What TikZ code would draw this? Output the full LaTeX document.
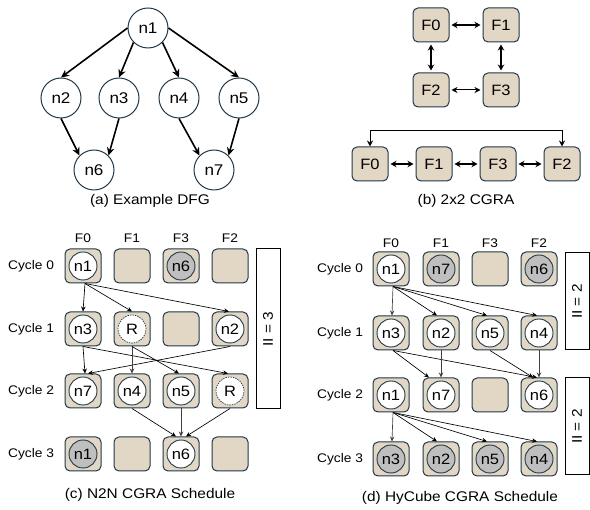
\documentclass[tikz,border=0pt]{standalone}
\usepackage{fontspec}
\setmainfont{Liberation Sans}[FakeStretch=1.1]
\usetikzlibrary{arrows.meta}
\definecolor{cborder}{RGB}{32,56,72}
\definecolor{tanfill}{RGB}{226,214,197}
\definecolor{opgray}{RGB}{191,191,191}
\tikzset{
  dfgnode/.style={circle, draw=cborder, line width=1pt, minimum size=40pt, inner sep=0pt, font=\fontsize{15.5}{15.5}\selectfont},
  dfgedge/.style={line width=1.6pt, -{Stealth[length=8pt,width=7.5pt]}},
  fubox/.style={draw=cborder, fill=tanfill, rounded corners=5pt, line width=1pt, minimum width=36pt, minimum height=34pt, inner sep=0pt, font=\fontsize{15}{15}\selectfont},
  fulink/.style={line width=1.8pt, {Stealth[length=6pt,width=6.5pt]}-{Stealth[length=6pt,width=6.5pt]}, shorten <=2pt, shorten >=2pt},
  fulinkthin/.style={line width=1pt, {Stealth[length=6pt,width=6pt]}-{Stealth[length=6pt,width=6pt]}, shorten <=2pt, shorten >=2pt},
  opnode/.style={circle, draw=cborder, fill=white, line width=0.9pt, minimum size=28pt, inner sep=0pt, font=\fontsize{15}{15}\selectfont},
  opgraynode/.style={opnode, fill=opgray},
  regnode/.style={opnode, dash pattern=on 1.5pt off 1pt, line width=0.7pt},
  schedge/.style={line width=0.65pt, -{Stealth[length=5pt,width=4.5pt]}},
  schedgegray/.style={schedge, draw=black!75},
  lbl/.style={font=\fontsize{12.5}{12.5}\selectfont, inner sep=0pt},
  captxt/.style={font=\fontsize{14}{14}\selectfont, inner sep=0pt},
  iibox/.style={draw=black, line width=1pt, minimum width=24pt, inner sep=0pt},
}
\begin{document}
\begin{tikzpicture}[x=1pt,y=-1pt]
\useasboundingbox (0,0) rectangle (590,510);

% ---------- (a) DFG ----------
\node[dfgnode] (n1) at (148,28) {n1};
\node[dfgnode] (n2) at (61,98) {n2};
\node[dfgnode] (n3) at (119,98) {n3};
\node[dfgnode] (n4) at (179,98) {n4};
\node[dfgnode] (n5) at (239,98) {n5};
\node[dfgnode] (n6) at (94,170) {n6};
\node[dfgnode] (n7) at (214,170) {n7};
\draw[dfgedge] (n1.west) -- (n2.north);
\draw[dfgedge] (n1.south west) -- (n3.north);
\draw[dfgedge] (n1.south east) -- (n4.north);
\draw[dfgedge] (n1.east) -- (n5.north);
\draw[dfgedge] (n2.south) -- (n6.north west);
\draw[dfgedge] (n3.south) -- (n6.north east);
\draw[dfgedge] (n4.south) -- (n7.north west);
\draw[dfgedge] (n5.south) -- (n7.north east);
\node[captxt] (capa) at (150,201) {(a) Example DFG};

% ---------- (b) 2x2 CGRA ----------
\node[fubox] (gF0) at (431,25) {F0};
\node[fubox] (gF1) at (501,25) {F1};
\node[fubox] (gF2) at (431,90) {F2};
\node[fubox] (gF3) at (501,90) {F3};
\draw[fulink] (gF0) -- (gF1);
\draw[fulinkthin] (gF2) -- (gF3);
\draw[fulink] (gF0) -- (gF2);
\draw[fulink] (gF1) -- (gF3);

\node[fubox] (rF0) at (370,164) {F0};
\node[fubox] (rF1) at (434,164) {F1};
\node[fubox] (rF3) at (498,164) {F3};
\node[fubox] (rF2) at (562,164) {F2};
\draw[fulink] (rF0) -- (rF1);
\draw[fulink] (rF1) -- (rF3);
\draw[fulink] (rF3) -- (rF2);
\draw[line width=1pt, {Stealth[length=6pt,width=6pt]}-{Stealth[length=6pt,width=6pt]}] (rF0.north) -- ++(0,-16) -| (rF2.north);
\node[captxt] (capb) at (466,201) {(b) 2x2 CGRA};

% ---------- (c) N2N schedule ----------
\foreach \n/\x in {F0/83,F1/132,F3/181,F2/230}{
  \node[lbl] (ch\n) at (\x,238) {\n};
}
\foreach \r/\y in {0/266,1/329,2/391,3/454}{
  \node[lbl] (cl\r) at (31,\y) {Cycle \r};
  \node[fubox] (c\r a) at (83,\y) {};
  \node[fubox] (c\r b) at (132,\y) {};
  \node[fubox] (c\r c) at (181,\y) {};
  \node[fubox] (c\r d) at (230,\y) {};
}
\node[opnode] (co0a) at (c0a) {n1};
\node[opgraynode] (co0c) at (c0c) {n6};
\node[opnode] (co1a) at (c1a) {n3};
\node[regnode] (co1b) at (c1b) {R};
\node[opnode] (co1d) at (c1d) {n2};
\node[opnode] (co2a) at (c2a) {n7};
\node[opnode] (co2b) at (c2b) {n4};
\node[opnode] (co2c) at (c2c) {n5};
\node[regnode] (co2d) at (c2d) {R};
\node[opgraynode] (co3a) at (c3a) {n1};
\node[opnode] (co3c) at (c3c) {n6};

\draw[schedge] ([xshift=2pt]c0a.south) -- (c1a.north);
\draw[schedge] ([xshift=2pt]c0a.south) -- (c1b.north);
\draw[schedge] ([xshift=2pt]c0a.south) -- ([xshift=-1pt]c1d.north);
\draw[schedge] (c1a.south) -- ([xshift=2pt]c2a.north);
\draw[schedge] (c1a.south) -- ([xshift=-2pt]c2d.north);
\draw[schedge] (c1d.south) -- ([xshift=5pt]c2a.north);
\draw[schedgegray] (c1b.south) -- (c2b.north);
\draw[schedge] (c1b.south) -- ([xshift=-2pt]c2c.north);
\draw[schedge] (c2b.south) -- ([xshift=-5pt]c3c.north);
\draw[schedgegray] (c2c.south) -- (c3c.north);
\draw[schedge] (c2d.south) -- ([xshift=5pt]c3c.north);

\node[iibox, minimum height=160pt] (ii3) at (268,329) {};
\node[captxt, rotate=90] (ii3t) at (ii3) {II = 3};
\node[captxt] (capc) at (150,495) {(c) N2N CGRA Schedule};

% ---------- (d) HyCube schedule ----------
\foreach \n/\x in {F0/391,F1/441,F3/490,F2/539}{
  \node[lbl] (dh\n) at (\x,243) {\n};
}
\foreach \r/\y in {0/269,1/333,2/395,3/459}{
  \node[lbl] (dl\r) at (340,\y) {Cycle \r};
  \node[fubox] (d\r a) at (391,\y) {};
  \node[fubox] (d\r b) at (441,\y) {};
  \node[fubox] (d\r c) at (490,\y) {};
  \node[fubox] (d\r d) at (539,\y) {};
}
\node[opnode] (do0a) at (d0a) {n1};
\node[opgraynode] (do0b) at (d0b) {n7};
\node[opgraynode] (do0d) at (d0d) {n6};
\node[opnode] (do1a) at (d1a) {n3};
\node[opnode] (do1b) at (d1b) {n2};
\node[opnode] (do1c) at (d1c) {n5};
\node[opnode] (do1d) at (d1d) {n4};
\node[opnode] (do2a) at (d2a) {n1};
\node[opnode] (do2b) at (d2b) {n7};
\node[opnode] (do2d) at (d2d) {n6};
\node[opgraynode] (do3a) at (d3a) {n3};
\node[opgraynode] (do3b) at (d3b) {n2};
\node[opgraynode] (do3c) at (d3c) {n5};
\node[opgraynode] (do3d) at (d3d) {n4};

\draw[schedgegray] ([xshift=2pt]d0a.south) -- ([xshift=1pt]d1a.north);
\draw[schedge] ([xshift=2pt]d0a.south) -- ([xshift=-4pt]d1b.north);
\draw[schedge] ([xshift=2pt]d0a.south) -- ([xshift=-3pt]d1c.north);
\draw[schedge] ([xshift=2pt]d0a.south) -- ([xshift=-2pt]d1d.north);
\draw[schedge] ([xshift=2pt]d1a.south) -- ([xshift=-12pt]d2b.north);
\draw[schedge] ([xshift=2pt]d1a.south) -- ([xshift=-2pt]d2d.north);
\draw[schedgegray] (d1b.south) -- (d2b.north);
\draw[schedge] (d1c.south) -- ([xshift=-6pt]d2d.north);
\draw[schedgegray] (d1d.south) -- (d2d.north);
\draw[schedgegray] ([xshift=2pt]d2a.south) -- ([xshift=1pt]d3a.north);
\draw[schedge] ([xshift=2pt]d2a.south) -- ([xshift=-4pt]d3b.north);
\draw[schedge] ([xshift=2pt]d2a.south) -- ([xshift=-3pt]d3c.north);
\draw[schedge] ([xshift=2pt]d2a.south) -- ([xshift=-2pt]d3d.north);

\node[iibox, minimum height=97pt] (ii2a) at (577,301.5) {};
\node[captxt, rotate=90] (ii2at) at (ii2a) {II = 2};
\node[iibox, minimum height=97pt] (ii2b) at (577,426.5) {};
\node[captxt, rotate=90] (ii2bt) at (ii2b) {II = 2};
\node[captxt] (capd) at (460,498) {(d) HyCube CGRA Schedule};
\end{tikzpicture}
\end{document}
